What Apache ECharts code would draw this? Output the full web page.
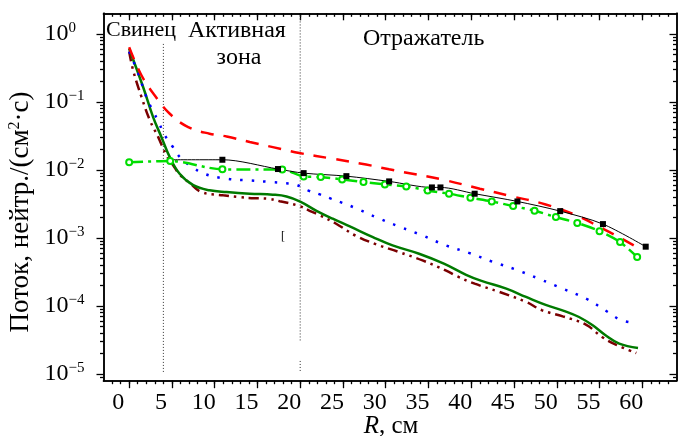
<!DOCTYPE html>
<html><head><meta charset="utf-8">
<script src="https://cdn.jsdelivr.net/npm/echarts@6/dist/echarts.min.js"></script>
<style>html,body{margin:0;padding:0;background:#fff}#c{width:678px;height:436px}</style>
</head><body><div id="c"></div>
<script>
// ---- data (R in cm, flux in neutrons/(cm^2·s)) ----
const xTickLabels = [0,5,10,15,20,25,30,35,40,45,50,55,60];
const yTickLabels = [1e-5,1e-4,1e-3,1e-2,1e-1,1];

const R_red = [0,1.45,3,4.75,6.9,9.4,11.4,14.1,16.8,19.9,23.8,27.7,30.4,32,36.7,41,44.8,48.7,52.6,55,56.5,59];
const F_red = [0.635,0.244,0.124,0.0668,0.0426,0.034,0.031,0.0257,0.0216,0.0177,0.0146,0.012,0.0102,0.00933,0.00718,0.0053,0.00408,0.00311,0.00207,0.00145,0.00116,0.000778];

const R_black = [5,10.9,17.4,20.4,25.4,30.4,35.4,36.4,40.4,45.4,50.4,55.4,60.4];
const F_black = [0.0141,0.0141,0.0103,0.00897,0.0081,0.00678,0.00553,0.00553,0.00447,0.00344,0.00248,0.0016,0.000745];

const R_lime = [0,4.8,10.9,17.9,20.4,22.4,24.9,27.4,29.9,32.4,34.9,37.4,39.9,42.4,44.9,47.4,49.9,52.4,55,57.4,59.4];
const F_lime = [0.013,0.0135,0.0102,0.0101,0.00803,0.00785,0.00725,0.00662,0.00612,0.00573,0.005,0.00447,0.0039,0.00344,0.00294,0.00251,0.00203,0.00166,0.00126,0.00087,0.000525];

const R_blue = [0,1.05,2.03,2.7,3.4,4.06,4.99,6,7.4,8.75,11.4,14.1,16.8,18.2,19.5,20.9,22.3,23.6,25,26.35,29,31.7,34.3,37,39.8,42.5,45.2,48,50.7,53.4,56,57.4,58.7];
const F_blue = [0.55,0.264,0.116,0.0766,0.0521,0.034,0.0229,0.0151,0.011,0.00879,0.00743,0.00701,0.00661,0.0064,0.00607,0.00501,0.00437,0.00378,0.00326,0.00279,0.00199,0.00145,0.00109,0.00078,0.0006,0.000447,0.000344,0.000249,0.00018,0.000129,0.0000813,0.0000631,0.0000575];

const R_dgreen = [0,1.64,2.8,3.78,4.75,5.9,7.5,9.4,11.4,14.1,16.8,18.4,20,21.9,23.8,25.8,28.5,30.8,33.9,36.8,39.4,41.2,44.1,46.4,48.7,51,52.6,54.2,55.7,57.3,59.5];
const F_dgreen = [0.603,0.164,0.0596,0.0303,0.0154,0.00879,0.00596,0.00501,0.00472,0.00447,0.00433,0.00408,0.00343,0.00251,0.00192,0.00148,0.00103,0.000778,0.000587,0.00042,0.000288,0.000234,0.00018,0.000136,0.000104,0.0000836,0.000069,0.0000521,0.0000372,0.0000281,0.0000242];

const R_maroon = [0,0.47,1.45,2.43,3.4,4.37,5.2,5.9,7.1,8.45,11,12.9,14.3,16.2,17.6,19.9,21.1,22.3,24.2,26.5,28.9,31.4,34.3,37,38.4,40.4,43.3,46.4,48.3,50.7,53.4,55.3,56.9,59.3];
const F_maroon = [0.55,0.289,0.117,0.0533,0.0303,0.0163,0.0114,0.00859,0.0064,0.00472,0.00423,0.00398,0.00385,0.00378,0.00347,0.00295,0.00251,0.00215,0.00162,0.00108,0.000805,0.000631,0.000468,0.000334,0.000272,0.000213,0.000161,0.000115,0.0000865,0.0000706,0.0000533,0.0000351,0.0000271,0.0000204];

// zone boundaries
const boundaryR = [4, 20];
const boundaryTop = [0.71, 1.86];
const boundaryBottom = [1.04e-5, 2.96e-5];
const boundaryExtra = [1.56e-5, 1.1e-5]; // short stub under the R=20 line

const zoneNames = ['Свинец', 'Активная', 'зона', 'Отражатель'];

// ---- build ----
const FONT = 'Liberation Serif';
const xMin = -3, xMax = 64, yMin = 8e-6, yMax = 2;
const xMinor = []; for (let i = -2; i <= 63; i++) xMinor.push(i);
const yMinor = [];
for (let e = -6; e <= 0; e++) for (let m = 2; m <= 9; m++) { const v = m * Math.pow(10, e); if (v > yMin && v < yMax) yMinor.push(+v.toPrecision(3)); }

const pairs = (R, F) => R.map((r, i) => [r, F[i]]);

function xAx(pos, ticks, len, inside, label) {
  return {
    type: 'value', min: xMin, max: xMax, position: pos,
    axisLine: { show: true, onZero: false, lineStyle: { color: '#000', width: 1.5 } },
    axisTick: { show: true, customValues: ticks, length: len, inside: inside, lineStyle: { color: '#000', width: 1.3 } },
    axisLabel: label ? {
      customValues: xTickLabels, fontFamily: FONT, fontSize: 24, color: '#000', margin: 10,
      padding: [0, 22, 0, 0]
    } : { show: false },
    splitLine: { show: false }
  };
}
function yAx(pos, ticks, len, inside, label) {
  return {
    type: 'log', logBase: 10, min: yMin, max: yMax, position: pos,
    axisLine: { show: true, onZero: false, lineStyle: { color: '#000', width: 1.5 } },
    axisTick: { show: true, customValues: ticks, length: len, inside: inside, lineStyle: { color: '#000', width: 1.3 } },
    axisLabel: label ? {
      customValues: yTickLabels, align: 'left', margin: 59, color: '#000',
      formatter: v => { const e = Math.round(Math.log10(v)); return '{b|10}{s|' + (e < 0 ? '\u2212' + (-e) : e) + '}'; },
      rich: {
        b: { fontFamily: FONT, fontSize: 24, color: '#000' },
        s: { fontFamily: FONT, fontSize: 15, color: '#000', padding: [0, 0, 12, 0] }
      }
    } : { show: false },
    splitLine: { show: false }
  };
}

const series = [];
const vline = (data) => ({
  type: 'line', data: data, symbol: 'none', silent: true, z: 1,
  lineStyle: { color: '#333', width: 1, type: [1, 2] }
});
boundaryR.forEach((r, i) => series.push(vline([[r, boundaryTop[i]], [r, boundaryBottom[i]]])));
series.push(vline([[boundaryR[1], boundaryExtra[0]], [boundaryR[1], boundaryExtra[1]]]));

series.push({ type: 'line', data: pairs(R_maroon, F_maroon), symbol: 'none', smooth: 0.4,
  lineStyle: { color: '#7a0000', width: 2.5, type: [10, 5, 2.5, 5, 2.5, 5] } });
series.push({ type: 'line', data: pairs(R_dgreen, F_dgreen), symbol: 'none', smooth: 0.4,
  lineStyle: { color: '#007a00', width: 2.5, type: 'solid' } });
series.push({ type: 'line', data: pairs(R_blue, F_blue), symbol: 'none', smooth: 0.4,
  lineStyle: { color: '#0000ff', width: 2.5, type: [2.5, 9] } });
series.push({ type: 'line', data: pairs(R_red, F_red), symbol: 'none', smooth: 0.4,
  lineStyle: { color: '#ff0000', width: 2.5, type: [13, 10] } });
series.push({ type: 'line', data: pairs(R_lime, F_lime), symbol: 'emptyCircle', symbolSize: 6, showAllSymbol: true,
  smooth: 0.3,
  itemStyle: { color: '#00dd00', borderColor: '#00dd00', borderWidth: 1.2 },
  lineStyle: { color: '#00dd00', width: 2.5, type: [14, 5, 3, 5] } });
series.push({ type: 'line', data: pairs(R_black, F_black).map((p, i) => i === 0 ? { value: p, symbolSize: 0 } : p),
  symbol: 'rect', symbolSize: 6, showAllSymbol: true, smooth: 0.3,
  itemStyle: { color: '#000' }, lineStyle: { color: '#000', width: 1 } });

const txt = (t, x, y, size, align) => ({
  type: 'text', x: x, y: y, silent: true,
  style: { text: t, fill: '#000', font: size + 'px "' + FONT + '"', textAlign: align || 'left', textVerticalAlign: 'middle' }
});

const chart = echarts.init(document.getElementById('c'), null, { renderer: 'canvas' });
chart.setOption({
  animation: false,
  backgroundColor: '#fff',
  grid: { left: 103.5, right: 1.5, top: 13.3, bottom: 55.3, containLabel: false, outerBoundsMode: 'none' },
  xAxis: [
    xAx('bottom', xTickLabels, 7.5, false, true),
    xAx('bottom', xMinor, 3.5, false, false),
    xAx('top', xTickLabels, 7, true, false),
    xAx('top', xMinor, 3.5, true, false)
  ],
  yAxis: [
    yAx('left', yTickLabels, 7, false, true),
    yAx('left', yMinor, 3.5, false, false),
    yAx('right', yTickLabels, 7, true, false),
    yAx('right', yMinor, 3.5, true, false)
  ],
  series: series,
  graphic: [
    txt(zoneNames[0], 106, 30, 22),
    txt(zoneNames[1], 188, 31, 24),
    txt(zoneNames[2], 239, 58, 24, 'center'),
    txt(zoneNames[3], 363, 39, 24),
    txt('[', 281, 237, 12),
    {
      type: 'text', x: 391, y: 426, silent: true,
      style: {
        text: '{i|R}{n|, см}', textAlign: 'center', textVerticalAlign: 'middle',
        rich: {
          i: { fontFamily: FONT, fontSize: 25, fontStyle: 'italic', fill: '#000', color: '#000' },
          n: { fontFamily: FONT, fontSize: 25, fill: '#000', color: '#000' }
        }
      }
    },
    {
      type: 'text', x: 21, y: 212, rotation: Math.PI / 2, silent: true,
      style: {
        text: '{b|Поток, нейтр./(см}{s|2}{b|·с)}', textAlign: 'center', textVerticalAlign: 'middle',
        rich: {
          b: { fontFamily: FONT, fontSize: 27, fill: '#000', color: '#000' },
          s: { fontFamily: FONT, fontSize: 16, fill: '#000', color: '#000', padding: [0, 0, 12, 0] }
        }
      }
    }
  ]
});
</script></body></html>
